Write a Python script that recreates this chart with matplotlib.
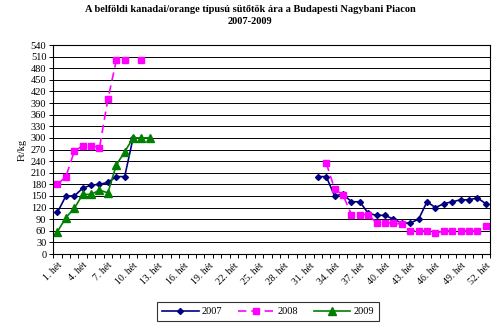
import numpy as np
import matplotlib
matplotlib.use("Agg")
import matplotlib.pyplot as plt
from matplotlib.lines import Line2D
from matplotlib.ticker import FixedLocator, NullFormatter

nan = np.nan
weeks = list(range(1, 53))
week_labels = [f"{w}. hét" for w in weeks]

y2007 = [108, 150, 150, 170, 178, 180, 185, 200, 200, 300] + [nan] * 21 + \
        [200, 200, 150, 155, 135, 135, 105, 100, 100, 90, 80, 80, 90, 135, 120, 130, 135, 140, 140, 145, 130]
y2008 = [180, 200, 265, 280, 280, 275, 400, 500, 500, nan, 500] + [nan] * 21 + \
        [235, 168, 152, 102, 102, 102, 80, 80, 80, 77, 60, 60, 60, 53, 60, 60, 60, 60, 60, 72]
y2009 = [58, 94, 118, 154, 154, 165, 158, 230, 264, 300, 300, 300] + [nan] * 40

title = "A belföldi kanadai/orange típusú sütőtök ára a Budapesti Nagybani Piacon\n2007-2009"
ylabel = "Ft/kg"
series_names = ["2007", "2008", "2009"]

serif = ["Liberation Serif", "DejaVu Serif"]
plt.rcParams['font.family'] = serif

fig = plt.figure(figsize=(5.0, 3.28), dpi=100)
ax = fig.add_axes([0.1066, 0.2256, 0.8734, 0.6372])

x = np.array(weeks, dtype=float)
ax.plot(x, y2007, color="#000080", lw=1.2, marker="D", ms=3, mfc="#000080", mec="#000080", label=series_names[0])
ax.plot(x, y2008, color="#FF00FF", lw=1.2, dashes=(5, 3), marker="s", ms=4.5, mfc="#FF00FF", mec="#FF00FF", label=series_names[1])
ax.plot(x, y2009, color="#008000", lw=1.2, marker="^", ms=6, mfc="#008000", mec="#008000", label=series_names[2])

ax.set_xlim(0.5, 52.5)
ax.set_ylim(0, 540)
ax.set_yticks(np.arange(0, 541, 30))
ax.yaxis.grid(True, color="black", lw=0.7)
ax.set_axisbelow(True)

ax.xaxis.set_major_locator(FixedLocator(x[::3]))
ax.set_xticklabels(week_labels[::3], rotation=45, ha="right", rotation_mode="anchor", fontsize=7)
ax.xaxis.set_minor_locator(FixedLocator(np.arange(0.5, 53, 1)))
ax.tick_params(axis="x", which="major", length=0, pad=5)
ax.tick_params(axis="x", which="minor", length=3, direction="out", width=0.7)
ax.tick_params(axis="y", length=3, direction="out", width=0.7, labelsize=7.5, pad=2)

for s in ax.spines.values():
    s.set_linewidth(0.8)
    s.set_color("black")

ax.set_ylabel(ylabel, fontsize=7.5, labelpad=3)
fig.suptitle(title, fontsize=7.5, fontweight="bold", y=0.985, linespacing=1.5)

leg = fig.legend(loc="center", bbox_to_anchor=(0.536, 0.05), ncol=3, fontsize=7.5,
                 frameon=True, fancybox=False, edgecolor="black", handlelength=3.5,
                 columnspacing=1.5, borderpad=0.5, handletextpad=0.3)
leg.get_frame().set_linewidth(0.8)

fig.savefig("out.png", dpi=100)
